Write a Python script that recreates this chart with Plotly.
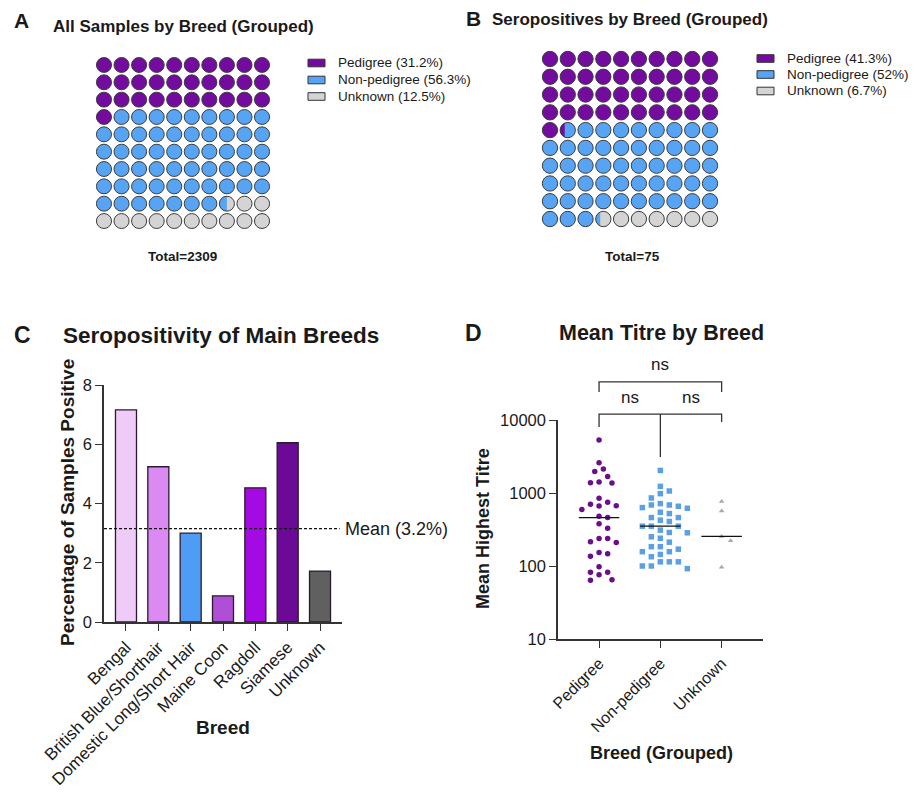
import numpy as np
import plotly.graph_objects as go

# page is rendered inside an 8px body margin; coordinates below are page pixels
OFF = 8
W, H = 922 - OFF, 793 - OFF

# ---------------- DATA ----------------
group_names = ["Pedigree", "Non-pedigree", "Unknown"]
all_pct = [31.2, 56.3, 12.5]
all_total = 2309
sero_pct = [41.3, 52.0, 6.7]
sero_total = 75

breeds = ["Bengal", "British Blue/Shorthair", "Domestic Long/Short Hair",
          "Maine Coon", "Ragdoll", "Siamese", "Unknown"]
breed_pos_pct = [7.16, 5.24, 3.0, 0.88, 4.53, 6.05, 1.72]
mean_pct = 3.15
mean_label = "Mean (3.2%)"

titre_pedigree = [5335, 2594, 2125, 1972, 1688, 1413, 1381, 1368, 846, 747, 700,
                  671, 665, 593, 481, 461, 378, 330, 238, 238, 215, 210, 153,
                  147, 136, 98, 82, 82, 76, 65, 64]
titre_nonped = [2037, 1233, 1065, 980, 855, 716, 685, 685, 658, 631, 618, 545,
                522, 461, 461, 424, 407, 351, 351, 351, 310, 288, 285, 251,
                240, 212, 184, 184, 170, 157, 157, 144, 134, 114, 114, 114,
                100, 100, 92]
titre_unknown = [762, 569, 254, 221, 96]
d_ticks = [10, 100, 1000, 10000]

# ---------------- STYLE ----------------
C_PED, C_NON, C_UNK = "#730c9e", "#58a4f4", "#d4d4d4"
waffle_cols = [C_PED, C_NON, C_UNK]
bar_cols = ["#efcbf7", "#da8af2", "#4f9cf6", "#ae4fd6", "#a30be2", "#6c0a98", "#606060"]
D_COLS = ["#6a0f8c", "#5b9fe4", "#a9a9a9"]
AX = "#333333"
TXT = "#1a1a1a"
FONT = "Liberation Sans, Arial, sans-serif"


def px(x):
    return (x - OFF) / W


def py(y):
    return 1 - (y - OFF) / H


fig = go.Figure()
shapes = []
ann = []

# ---------------- WAFFLES (A, B) ----------------
def waffle(pcts, xref, yref, r=0.43):
    cum = np.cumsum([0] + list(pcts))
    for k in range(100):
        row, col = k // 10, k % 10
        cx, cy = col + 0.5, 9.5 - row
        parts = []
        for j in range(len(pcts)):
            lo, hi = max(cum[j], k), min(cum[j + 1], k + 1)
            if hi - lo > 1e-9:
                parts.append((j, hi - lo))
        parts = [p for p in parts if p[1] >= 0.25] or parts[:1]
        main = parts[-1][0]
        shapes.append(dict(type="circle", xref=xref, yref=yref,
                           x0=cx - r, x1=cx + r, y0=cy - r, y1=cy + r,
                           fillcolor=waffle_cols[main], line=dict(width=0), layer="above"))
        if len(parts) > 1:
            f = parts[0][1] / sum(p[1] for p in parts)
            xc = cx - r + 2 * r * f
            a = np.arccos((xc - cx) / r)
            th = np.linspace(a, 2 * np.pi - a, 40)
            pts = [(cx + r * np.cos(t), cy + r * np.sin(t)) for t in th]
            path = "M " + " L ".join(f"{x:.4f},{y:.4f}" for x, y in pts) + " Z"
            shapes.append(dict(type="path", xref=xref, yref=yref, path=path,
                               fillcolor=waffle_cols[parts[0][0]], line=dict(width=0),
                               layer="above"))
        shapes.append(dict(type="circle", xref=xref, yref=yref,
                           x0=cx - r, x1=cx + r, y0=cy - r, y1=cy + r,
                           line=dict(color="#3c3c3c", width=1), layer="above"))


waffle(all_pct, "x", "y")
waffle(sero_pct, "x2", "y2")


def wlegend(x0, ys, pcts):
    for i, (nm, p) in enumerate(zip(group_names, pcts)):
        yc = ys[i]
        shapes.append(dict(type="rect", xref="paper", yref="paper",
                           x0=px(x0), x1=px(x0 + 17), y0=py(yc + 3.8), y1=py(yc - 3.8),
                           fillcolor=waffle_cols[i], line=dict(color="#333", width=1)))
        lab = f"{nm} ({p:g}%)"
        ann.append(dict(x=px(x0 + 28), y=py(yc), text=lab, font=dict(size=13.5)))


wlegend(308, [63, 80, 96.5], all_pct)
wlegend(757, [58.5, 74.5, 91], sero_pct)

ann += [
    dict(x=px(12), y=py(21), text="<b>A</b>", font=dict(size=21)),
    dict(x=px(51), y=py(27), text="<b>All Samples by Breed (Grouped)</b>", font=dict(size=17)),
    dict(x=px(464), y=py(19), text="<b>B</b>", font=dict(size=21)),
    dict(x=px(490), y=py(20), text="<b>Seropositives by Breed (Grouped)</b>", font=dict(size=17)),
    dict(x=px(182), y=py(257), text=f"<b>Total={all_total}</b>", font=dict(size=13.5), xanchor="center"),
    dict(x=px(632), y=py(257), text=f"<b>Total={sero_total}</b>", font=dict(size=13.5), xanchor="center"),
    dict(x=px(12), y=py(335), text="<b>C</b>", font=dict(size=23)),
    dict(x=px(61), y=py(335), text="<b>Seropositivity of Main Breeds</b>", font=dict(size=22.5)),
    dict(x=px(463), y=py(333), text="<b>D</b>", font=dict(size=23)),
    dict(x=px(661), y=py(333), text="<b>Mean Titre by Breed</b>", font=dict(size=21.5), xanchor="center"),
    dict(x=px(67), y=py(503), text="<b>Percentage of Samples Positive</b>", font=dict(size=19),
         textangle=-90, xanchor="center"),
    dict(x=px(223), y=py(727), text="<b>Breed</b>", font=dict(size=19), xanchor="center"),
    dict(x=px(483), y=py(529), text="<b>Mean Highest Titre</b>", font=dict(size=18),
         textangle=-90, xanchor="center"),
    dict(x=px(661), y=py(753), text="<b>Breed (Grouped)</b>", font=dict(size=18), xanchor="center"),
    dict(x=px(343), y=py(529), text=mean_label, font=dict(size=18), xanchor="left"),
]

# ---------------- C: bars ----------------
fig.add_trace(go.Bar(x=breeds, y=breed_pos_pct, marker=dict(color=bar_cols,
                     line=dict(color="#2a1a30", width=1.3)), width=0.65,
                     xaxis="x3", yaxis="y3", showlegend=False))
shapes.append(dict(type="line", xref="x3 domain", yref="y3", x0=0, x1=0.99,
                   y0=mean_pct, y1=mean_pct, line=dict(color="#111", width=1.3, dash="3px,2px")))

# ---------------- D: titre scatter ----------------
XPU = 61.3   # px per category unit
YPD = 73.0   # px per decade


def swarm(vals, step, mind):
    vals = np.asarray(vals, float)
    order = np.argsort(-vals)
    placed = []
    offs = np.zeros(len(vals))
    ks = [0]
    for k in range(1, 30):
        ks += [k, -k]
    for i in order:
        yv = np.log10(vals[i]) * YPD
        for k in ks:
            xv = k * step
            if all((xv - a) ** 2 + (yv - b) ** 2 >= mind ** 2 for a, b in placed):
                break
        placed.append((xv, yv))
        offs[i] = xv / XPU
    return offs


groups = [titre_pedigree, titre_nonped, titre_unknown]
symbols = ["circle", "square", "triangle-up"]
params = [(4.3, 7.5), (9.0, 7.0), (9.0, 6.0)]
for gi, (vals, sym, (st, md)) in enumerate(zip(groups, symbols, params)):
    offs = swarm(vals, st, md)
    fig.add_trace(go.Scatter(x=gi + offs, y=vals, mode="markers", xaxis="x4", yaxis="y4",
                             marker=dict(symbol=sym, size=5.5 if gi < 2 else 5, color=D_COLS[gi],
                                         line=dict(width=0)),
                             showlegend=False, hoverinfo="y"))
    med = float(np.median(vals))
    fig.add_trace(go.Scatter(x=[gi - 0.33, gi + 0.33], y=[med, med], mode="lines",
                             line=dict(color="#111", width=1.3), xaxis="x4", yaxis="y4",
                             showlegend=False, hoverinfo="skip"))

br = dict(color=AX, width=1.3)
shapes += [
    dict(type="path", xref="x4", yref="y4 domain",
         path="M 0,1.128 L 0,1.174 L 2,1.174 L 2,1.128", line=br),
    dict(type="path", xref="x4", yref="y4 domain",
         path="M 0,0.968 L 0,1.027 L 2,1.027 L 2,0.991", line=br),
    dict(type="line", xref="x4", yref="y4 domain", x0=1, x1=1, y0=1.027, y1=0.831, line=br),
]
for xx, yy in [(1, 1.255), (0.5, 1.105), (1.5, 1.105)]:
    ann.append(dict(x=xx, y=yy, xref="x4", yref="y4 domain", text="ns",
                    xanchor="center", font=dict(size=17)))

for a in ann:
    a.setdefault("xref", "paper")
    a.setdefault("yref", "paper")
    a.setdefault("showarrow", False)
    a.setdefault("xanchor", "left")
    a.setdefault("yanchor", "middle")
    f = dict(family=FONT, color=TXT)
    f.update(a.get("font", {}))
    a["font"] = f

# ---------------- LAYOUT ----------------
hidden = dict(visible=False, range=[0, 10], fixedrange=True, automargin=False)
axis_common = dict(showline=True, linecolor=AX, linewidth=1.5, ticks="outside", ticklen=7,
                   tickwidth=1.3, tickcolor=AX, showgrid=False, zeroline=False, automargin=False)


def tf(s):
    return dict(family=FONT, size=s, color=TXT)


fig.update_layout(
    template="none",
    width=W, height=H, margin=dict(l=0, r=0, t=0, b=0, pad=0, autoexpand=False),
    paper_bgcolor="white", plot_bgcolor="white", showlegend=False,
    xaxis=dict(domain=[px(95.2), px(270.8)], anchor="y", **hidden),
    yaxis=dict(domain=[py(229.7), py(56.3)], anchor="x", **hidden),
    xaxis2=dict(domain=[px(541.1), px(718.9)], anchor="y2", **hidden),
    yaxis2=dict(domain=[py(227.9), py(50.1)], anchor="x2", **hidden),
    xaxis3=dict(domain=[px(104), px(342)], anchor="y3", range=[-0.68, 6.68],
                type="category", tickangle=-45, tickfont=tf(17), **axis_common),
    yaxis3=dict(domain=[py(622), py(385)], anchor="x3", range=[0, 8], tickvals=[0, 2, 4, 6, 8],
                tickfont=tf(16.5), **axis_common),
    xaxis4=dict(domain=[px(558), px(763)], anchor="y4", range=[-0.67, 2.675],
                tickvals=[0, 1, 2], ticktext=group_names, tickangle=-45, tickfont=tf(16),
                **axis_common),
    yaxis4=dict(domain=[py(639), py(420)], anchor="x4", type="log", range=[1, 4],
                tickvals=d_ticks, ticktext=[str(t) for t in d_ticks], tickfont=tf(16.5),
                **axis_common),
    shapes=shapes, annotations=ann,
    font=dict(family=FONT, color=TXT),
)

fig.write_html("out.html")
